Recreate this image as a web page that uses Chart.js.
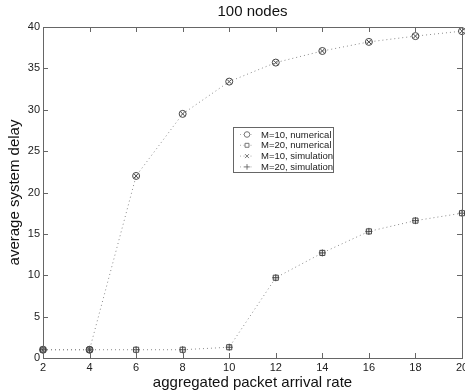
<!DOCTYPE html>
<html><head><meta charset="utf-8">
<script src="https://cdn.jsdelivr.net/npm/chart.js@4/dist/chart.umd.min.js"></script>
<style>html,body{margin:0;padding:0;overflow:hidden;background:#fff;width:465px;height:392px}#wrap{width:480px;height:392px;position:relative}</style>
</head><body><div id="wrap"><canvas id="c"></canvas></div>
<script>
const rates = [2,4,6,8,10,12,14,16,18,20];
const m10Numerical = [1.0,1.0,22.0,29.5,33.4,35.7,37.1,38.2,38.9,39.5];
const m20Numerical = [1.0,1.0,1.0,1.0,1.3,9.7,12.7,15.3,16.6,17.5];
const m10Simulation = [1.0,1.0,22.0,29.5,33.4,35.7,37.1,38.2,38.9,39.5];
const m20Simulation = [1.0,1.0,1.0,1.0,1.3,9.7,12.7,15.3,16.6,17.5];
const xTicks = [2,4,6,8,10,12,14,16,18,20];
const yTicks = [0,5,10,15,20,25,30,35,40];
const seriesNames = ['M=10, numerical','M=20, numerical','M=10, simulation','M=20, simulation'];

const pts = (ys) => rates.map((x,i)=>({x, y: ys[i]}));
const mk = '#444';
const lineCol = '#8a8a8a';

const datasets = [
  {label: seriesNames[0], data: pts(m10Numerical), pointStyle:'circle', pointRadius:3.5, showLine:true},
  {label: seriesNames[1], data: pts(m20Numerical), pointStyle:'rect', pointRadius:3.6, showLine:true},
  {label: seriesNames[2], data: pts(m10Simulation), pointStyle:'crossRot', pointRadius:3, showLine:false},
  {label: seriesNames[3], data: pts(m20Simulation), pointStyle:'cross', pointRadius:3.5, showLine:false}
].map(d => Object.assign({
  borderColor: lineCol, borderWidth: 1, borderDash:[1,3], backgroundColor:'rgba(0,0,0,0)',
  pointBorderColor: mk, pointBackgroundColor:'rgba(0,0,0,0)', pointBorderWidth:1, pointHoverRadius:0,
  tension:0, clip:8
}, d));

const frame = {
  id:'frame',
  afterDraw(chart){
    const {ctx, chartArea:a, scales:{x, y}} = chart;
    ctx.save();
    ctx.strokeStyle = '#666'; ctx.lineWidth = 1;
    ctx.strokeRect(Math.round(a.left)+0.5, Math.round(a.top)+0.5, Math.round(a.right-a.left), Math.round(a.bottom-a.top));
    ctx.beginPath();
    const tl = 5;
    xTicks.forEach(v=>{const px=Math.round(x.getPixelForValue(v))+0.5;
      ctx.moveTo(px,a.bottom); ctx.lineTo(px,a.bottom-tl);
      ctx.moveTo(px,a.top); ctx.lineTo(px,a.top+tl);});
    yTicks.forEach(v=>{const py=Math.round(y.getPixelForValue(v))+0.5;
      ctx.moveTo(a.left,py); ctx.lineTo(a.left+tl,py);
      ctx.moveTo(a.right,py); ctx.lineTo(a.right-tl,py);});
    ctx.stroke();
    // legend
    const lx = 233, ly = 127, lw = 100, lh = 45;
    ctx.fillStyle = '#fff'; ctx.fillRect(lx, ly, lw, lh);
    ctx.strokeStyle = '#666'; ctx.strokeRect(lx+0.5, ly+0.5, lw, lh);
    ctx.font = '9.5px "Liberation Sans", Arial, sans-serif';
    ctx.textBaseline = 'middle'; ctx.textAlign = 'left';
    chart.data.datasets.forEach((d,i)=>{
      const cy = ly + 7.5 + i*10.8;
      ctx.save();
      ctx.strokeStyle = '#aaa'; ctx.setLineDash([1,2.5]);
      ctx.beginPath(); ctx.moveTo(lx+7, cy); ctx.lineTo(lx+21, cy); ctx.stroke();
      ctx.restore();
      ctx.save();
      ctx.strokeStyle = '#777'; ctx.fillStyle = '#fff'; ctx.lineWidth = 1;
      Chart.helpers.drawPoint(ctx, {pointStyle:d.pointStyle, radius:2.8, borderWidth:1, rotation:0}, lx+14, cy);
      ctx.restore();
      ctx.fillStyle = '#222';
      ctx.fillText(d.label, lx+28, cy+0.5);
    });
    ctx.restore();
  }
};

new Chart(document.getElementById('c'), {
  type:'scatter',
  data:{datasets},
  options:{
    responsive:true, maintainAspectRatio:false, animation:false,
    layout:{padding:{left:0,right:18,top:0,bottom:0}},
    plugins:{
      legend:{display:false}, tooltip:{enabled:false},
      title:{display:true, text:'100 nodes', fullSize:false, color:'#111',
        font:{family:'"Liberation Sans", Arial, sans-serif', size:15, weight:'normal'},
        padding:{top:3,bottom:6}}
    },
    scales:{
      x:{type:'linear', min:2, max:20,
        afterBuildTicks(s){ s.ticks = xTicks.map(v=>({value:v})); },
        afterFit(s){ s.height = 34; },
        grid:{display:false, drawTicks:false}, border:{display:false},
        ticks:{padding:3, color:'#222', maxRotation:0, font:{family:'"Liberation Sans", Arial, sans-serif', size:11}},
        title:{display:true, text:'aggregated packet arrival rate', color:'#111', padding:{top:0,bottom:0},
          font:{family:'"Liberation Sans", Arial, sans-serif', size:15}}
      },
      y:{type:'linear', min:0, max:40,
        afterBuildTicks(s){ s.ticks = yTicks.map(v=>({value:v})); },
        afterFit(s){ s.width = 43; },
        grid:{display:false, drawTicks:false}, border:{display:false},
        ticks:{padding:3, color:'#222', font:{family:'"Liberation Sans", Arial, sans-serif', size:11}},
        title:{display:true, text:'average system delay', color:'#111', padding:{top:6,bottom:0},
          font:{family:'"Liberation Sans", Arial, sans-serif', size:15}}
      }
    }
  },
  plugins:[frame]
});
</script></body></html>
